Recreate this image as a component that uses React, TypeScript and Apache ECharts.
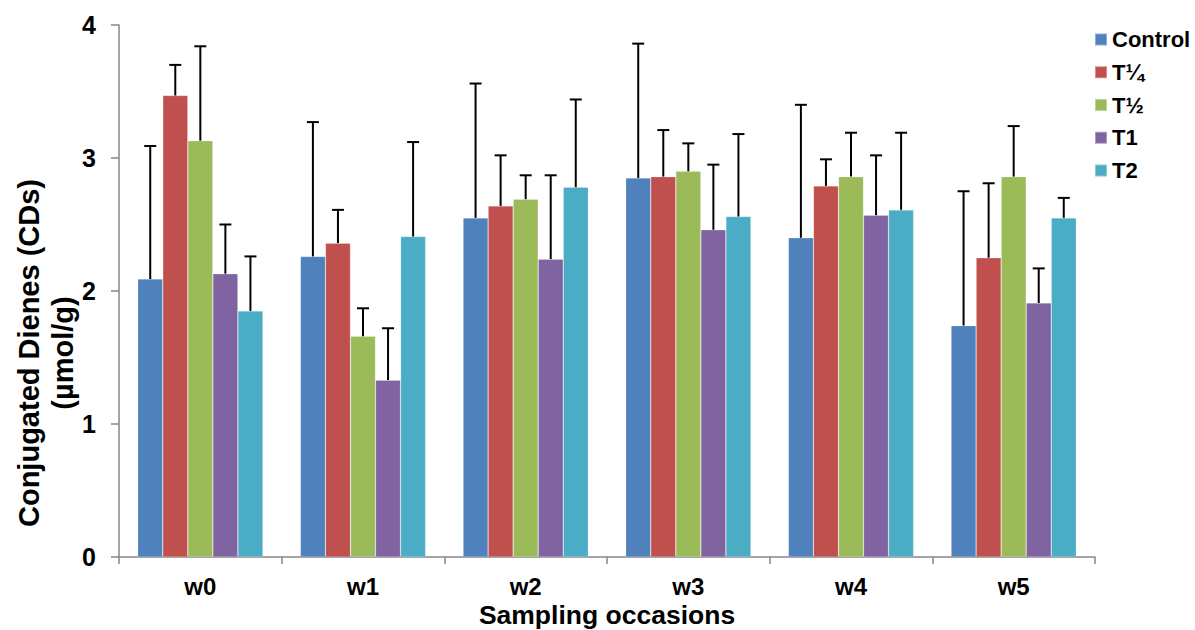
import React, { useEffect, useRef } from "react";
import * as echarts from "echarts";

const categories = ["w0", "w1", "w2", "w3", "w4", "w5"];
const seriesNames = ["Control", "T¼", "T½", "T1", "T2"];
const colors = ["#4F81BD", "#C0504D", "#9BBB59", "#8064A2", "#4BACC6"];

const controlMean = [2.09, 2.26, 2.55, 2.85, 2.40, 1.74];
const controlUpper = [3.09, 3.27, 3.56, 3.86, 3.40, 2.75];
const tQuarterMean = [3.47, 2.36, 2.64, 2.86, 2.79, 2.25];
const tQuarterUpper = [3.70, 2.61, 3.02, 3.21, 2.99, 2.81];
const tHalfMean = [3.13, 1.66, 2.69, 2.90, 2.86, 2.86];
const tHalfUpper = [3.84, 1.87, 2.87, 3.11, 3.19, 3.24];
const t1Mean = [2.13, 1.33, 2.24, 2.46, 2.57, 1.91];
const t1Upper = [2.50, 1.72, 2.87, 2.95, 3.02, 2.17];
const t2Mean = [1.85, 2.41, 2.78, 2.56, 2.61, 2.55];
const t2Upper = [2.26, 3.12, 3.44, 3.18, 3.19, 2.70];

const yTicks = [0, 1, 2, 3, 4];

const means = [controlMean, tQuarterMean, tHalfMean, t1Mean, t2Mean];
const uppers = [controlUpper, tQuarterUpper, tHalfUpper, t1Upper, t2Upper];

const FONT = "'Liberation Sans', Arial, sans-serif";
const GAP = 0.23;
const GRID_LEFT = 119;
const GRID_RIGHT = 100;
const W = 1195;

export default function App() {
  const ref = useRef<HTMLDivElement>(null);
  useEffect(() => {
    if (!ref.current) return;
    const chart = echarts.init(ref.current, null, { renderer: "svg" });
    const barSeries = seriesNames.map((name, i) => ({
      name,
      type: "bar",
      data: means[i],
      barGap: "0%",
      barCategoryGap: GAP * 100 + "%",
      itemStyle: { color: colors[i], borderColor: "rgba(255,255,255,0.35)", borderWidth: 0.6 },
      z: 2,
    }));
    const errSeries = seriesNames.map((name, i) => ({
      name: name + "_err",
      type: "custom",
      data: categories.map((c, j) => [j, means[i][j], uppers[i][j]]),
      z: 3,
      silent: true,
      renderItem: (params: any, api: any) => {
        const idx = api.value(0);
        const base = api.coord([idx, api.value(1)]);
        const top = api.coord([idx, api.value(2)]);
        const catW = api.size([1, 0])[0];
        const barW = (catW * (1 - GAP)) / seriesNames.length;
        const x = base[0] + (i - (seriesNames.length - 1) / 2) * barW;
        const cap = 6;
        const style = { stroke: "#000", lineWidth: 2, fill: null };
        return {
          type: "group",
          children: [
            { type: "line", shape: { x1: x, y1: base[1], x2: x, y2: top[1] }, style },
            { type: "line", shape: { x1: x - cap, y1: top[1], x2: x + cap, y2: top[1] }, style },
          ],
        };
      },
    }));
    chart.setOption({
      animation: false,
      textStyle: { fontFamily: FONT },
      grid: { left: GRID_LEFT, right: GRID_RIGHT, top: 25, bottom: 73, containLabel: false, outerBoundsMode: "none" },
      legend: {
        data: seriesNames,
        orient: "vertical",
        left: 1089,
        top: 23.5,
        itemWidth: 12,
        itemHeight: 12,
        itemGap: 10.75,
        icon: "rect",
        textStyle: { fontFamily: FONT, fontWeight: "bold", fontSize: 22, lineHeight: 22, color: "#000" },
      },
      xAxis: {
        type: "category",
        data: categories,
        axisLine: { lineStyle: { color: "#868686", width: 1.5 } },
        axisTick: { show: true, length: 7, alignWithLabel: false, lineStyle: { color: "#868686", width: 1.5 } },
        axisLabel: { fontFamily: FONT, fontWeight: "bold", fontSize: 24, lineHeight: 22, color: "#000", margin: 18 },
      },
      yAxis: {
        type: "value",
        min: yTicks[0],
        max: yTicks[yTicks.length - 1],
        interval: 1,
        splitLine: { show: false },
        axisLine: { show: true, lineStyle: { color: "#868686", width: 1.5 } },
        axisTick: { show: true, length: 8, lineStyle: { color: "#868686", width: 1.5 } },
        axisLabel: { fontFamily: FONT, fontWeight: "bold", fontSize: 25, color: "#000", margin: 23 },
      },
      graphic: [
        {
          type: "text",
          x: 46,
          y: 353,
          rotation: Math.PI / 2,
          style: {
            text: "Conjugated Dienes (CDs)\n(µmol/g)",
            fontFamily: FONT,
            fontWeight: "bold",
            fontSize: 29,
            lineHeight: 34,
            fill: "#000",
            align: "center",
            verticalAlign: "middle",
          },
        },
        {
          type: "text",
          x: GRID_LEFT + (W - GRID_LEFT - GRID_RIGHT) / 2,
          y: 615,
          style: {
            text: "Sampling occasions",
            fontFamily: FONT,
            fontWeight: "bold",
            fontSize: 26.5,
            lineHeight: 22,
            fill: "#000",
            align: "center",
            verticalAlign: "middle",
          },
        },
      ],
      series: [...barSeries, ...errSeries],
    });
    return () => chart.dispose();
  }, []);
  return <div ref={ref} style={{ position: "absolute", left: 0, top: 0, width: 1195, height: 630 }} />;
}
